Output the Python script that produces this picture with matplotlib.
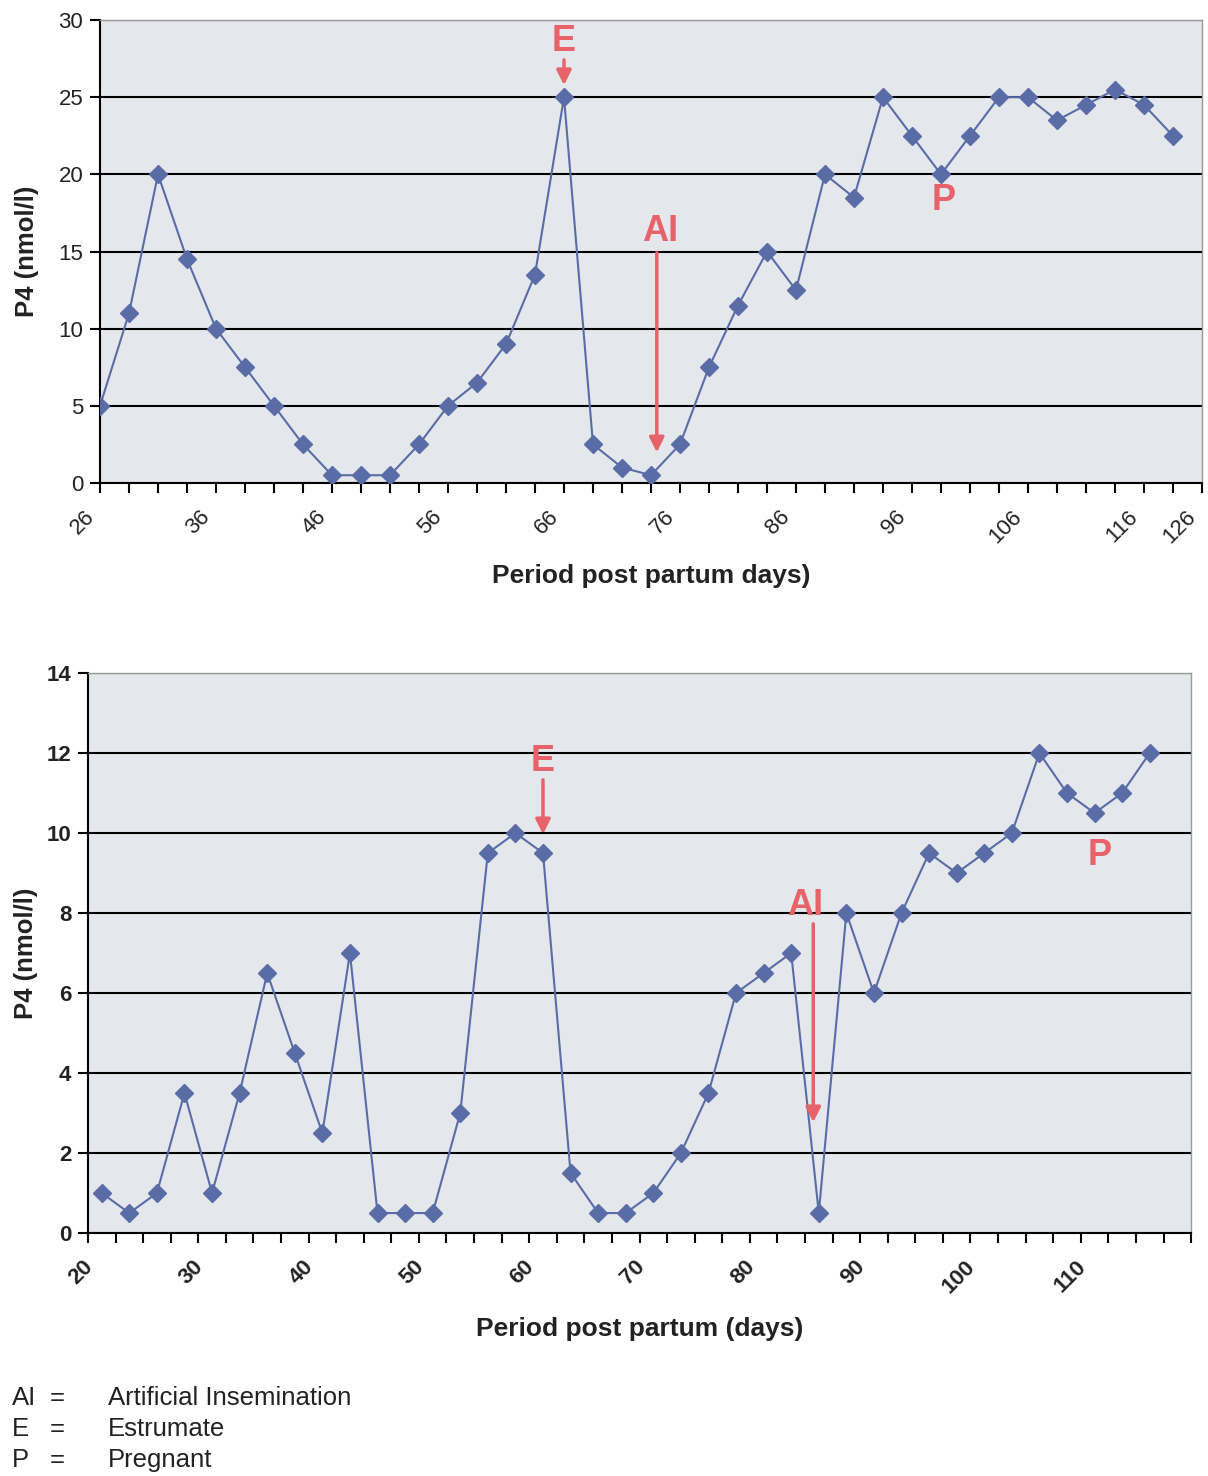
import matplotlib
matplotlib.use('Agg')
import numpy as np
import matplotlib.pyplot as plt
from matplotlib.transforms import ScaledTranslation

plt.rcParams['font.family'] = ['Liberation Sans', 'DejaVu Sans']

# vaca 1: P4 por muestra (cada muestra ~2.5 dias)
p4_top = [5, 11, 20, 14.5, 10, 7.5, 5, 2.5, 0.5, 0.5, 0.5, 2.5, 5, 6.5, 9, 13.5, 25,
          2.5, 1, 0.5, 2.5, 7.5, 11.5, 15, 12.5, 20, 18.5, 25, 22.5, 20, 22.5, 25,
          25, 23.5, 24.5, 25.5, 24.5, 22.5]
top_labels = ['26', '36', '46', '56', '66', '76', '86', '96', '106', '116', '126']

# vaca 2
p4_bot = [1, 0.5, 1, 3.5, 1, 3.5, 6.5, 4.5, 2.5, 7, 0.5, 0.5, 0.5, 3, 9.5, 10, 9.5,
          1.5, 0.5, 0.5, 1, 2, 3.5, 6, 6.5, 7, 0.5, 8, 6, 8, 9.5, 9, 9.5, 10, 12,
          11, 10.5, 11, 12]
bot_labels = ['20', '30', '40', '50', '60', '70', '80', '90', '100', '110']

linea = '#5a6ca6'
rojo = '#e8626a'
fondo = '#e4e7ec'
texto = '#222222'

fig = plt.figure(figsize=(12.08, 14.76), dpi=100)


def estilo(ax, ymax, ystep, bold, lpad):
    ax.set_facecolor(fondo)
    for s in ['top', 'right']:
        ax.spines[s].set_color('#9a9a9a')
        ax.spines[s].set_linewidth(1)
    for s in ['left', 'bottom']:
        ax.spines[s].set_color('black')
        ax.spines[s].set_linewidth(1.5)
    ax.set_ylim(0, ymax)
    ax.set_yticks(np.arange(0, ymax + 0.1, ystep))
    ax.yaxis.grid(True, color='black', linewidth=1.5)
    ax.set_axisbelow(True)
    ax.tick_params(axis='both', which='both', length=7, width=1.5, labelsize=16,
                   labelcolor=texto)
    ax.tick_params(axis='y', pad=5)
    ax.tick_params(axis='x', which='major', pad=15)
    w = 'bold' if bold else 'normal'
    for t in ax.get_yticklabels():
        t.set_fontweight(w)
    ax.set_ylabel('P4 (nmol/l)', fontsize=18.5, fontweight='bold', labelpad=lpad, color=texto)


def mover_etiquetas(ax, dx):
    off = ScaledTranslation(dx / 100, 0, fig.dpi_scale_trans)
    for t in ax.get_xticklabels():
        t.set_transform(t.get_transform() + off)


# ---- grafica superior
ax1 = fig.add_axes([0.0828, 0.6728, 0.9122, 0.3136])
x1 = np.arange(len(p4_top))
ax1.plot(x1, p4_top, color=linea, linewidth=1.5, marker='D', markersize=9, zorder=3)
ax1.set_xlim(0, len(p4_top))
ax1.set_xticks(np.arange(0, len(p4_top) + 1), minor=True)
pos1 = list(range(0, len(p4_top), 4)) + [len(p4_top)]
ax1.set_xticks(pos1)
ax1.set_xticklabels(top_labels, rotation=45, ha='right', va='center', rotation_mode='anchor')
estilo(ax1, 30, 5, False, 14)
mover_etiquetas(ax1, -9)
ax1.set_xlabel('Period post partum days)', fontsize=19, fontweight='bold', labelpad=12,
               color=texto)

ax1.text(16, 28.6, 'E', color=rojo, fontsize=26, fontweight='bold', ha='center', va='center')
ax1.annotate('', xy=(16, 25.6), xytext=(16, 27.6),
             arrowprops=dict(arrowstyle='-|>', color=rojo, lw=2.5, mutation_scale=22))
ax1.text(19.3, 16.3, 'AI', color=rojo, fontsize=26, fontweight='bold', ha='center', va='center')
ax1.annotate('', xy=(19.2, 1.8), xytext=(19.2, 15.1),
             arrowprops=dict(arrowstyle='-|>', color=rojo, lw=2.5, mutation_scale=22))
ax1.text(29.1, 18.3, 'P', color=rojo, fontsize=26, fontweight='bold', ha='center', va='center')

# ---- grafica inferior
ax2 = fig.add_axes([0.0728, 0.1646, 0.9132, 0.3794])
x2 = np.arange(len(p4_bot))
ax2.plot(x2, p4_bot, color=linea, linewidth=1.5, marker='D', markersize=9, zorder=3)
ax2.set_xlim(-0.5, len(p4_bot) + 0.5)
ax2.set_xticks(np.arange(-0.5, len(p4_bot) + 1), minor=True)
pos2 = np.arange(-0.5, len(p4_bot), 4)[:len(bot_labels)]
ax2.set_xticks(pos2)
ax2.set_xticklabels(bot_labels, rotation=45, ha='right', va='center', rotation_mode='anchor',
                    fontweight='bold')
estilo(ax2, 14, 2, True, 6)
mover_etiquetas(ax2, 2)
ax2.set_xlabel('Period post partum (days)', fontsize=19, fontweight='bold', labelpad=14,
               color=texto)

ax2.text(16, 11.8, 'E', color=rojo, fontsize=26, fontweight='bold', ha='center', va='center')
ax2.annotate('', xy=(16, 9.9), xytext=(16, 11.4),
             arrowprops=dict(arrowstyle='-|>', color=rojo, lw=2.5, mutation_scale=22))
ax2.text(25.5, 8.2, 'AI', color=rojo, fontsize=26, fontweight='bold', ha='center', va='center')
ax2.annotate('', xy=(25.8, 2.7), xytext=(25.8, 7.8),
             arrowprops=dict(arrowstyle='-|>', color=rojo, lw=2.5, mutation_scale=22))
ax2.text(36.2, 9.45, 'P', color=rojo, fontsize=26, fontweight='bold', ha='center', va='center')

# leyenda de abreviaturas
claves = ['AI', 'E', 'P']
significados = ['Artificial Insemination', 'Estrumate', 'Pregnant']
for i, (k, v) in enumerate(zip(claves, significados)):
    yy = 1 - (1398 + i * 31) / 1476
    fig.text(12 / 1208, yy, k, fontsize=18.5, va='center', color=texto)
    fig.text(50 / 1208, yy, '=', fontsize=18.5, va='center', color=texto)
    fig.text(108 / 1208, yy, v, fontsize=18.5, va='center', color=texto)

plt.savefig('out.png', dpi=100)
plt.close()
